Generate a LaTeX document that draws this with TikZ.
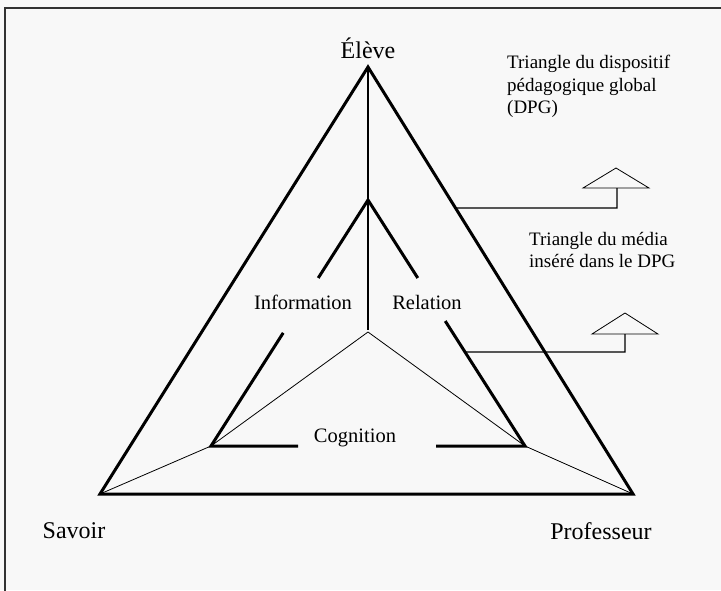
\documentclass[tikz,border=0pt]{standalone}
\usepackage{fontspec}
\setmainfont{Liberation Serif}
\usetikzlibrary{calc}
\definecolor{bgc}{RGB}{248,248,248}
\definecolor{framec}{RGB}{50,50,50}
\begin{document}
\begin{tikzpicture}[x=1pt,y=-1pt,
  bigside/.style={line width=3pt, line join=miter},
  innerside/.style={line width=3pt, line join=miter},
  thinline/.style={line width=0.8pt},
  midline/.style={line width=1.3pt},
  biglab/.style={inner sep=0pt, font=\fontsize{24}{28}\selectfont},
  smalllab/.style={inner sep=0pt, font=\fontsize{20.5}{24}\selectfont},
  notelab/.style={inner sep=0pt, anchor=north west, align=left, font=\fontsize{19}{22.5}\selectfont}]
\fill[bgc] (0,0) rectangle (721,590);
\useasboundingbox (0,0) rectangle (721,590);
% frame (only top and left visible)
\draw[framec, line width=1.5pt] (5,592) -- (5,8) -- (723,8);
% coordinates
\coordinate (A) at (368,67);
\coordinate (S) at (100,494);
\coordinate (P) at (633,494);
\coordinate (a) at (368,200);
\coordinate (s) at (211,446);
\coordinate (p) at (525,446);
\coordinate (c) at (368,332);
\coordinate (cv) at (368,330);
% outer triangle
\draw[bigside] (A) -- (S) -- (P) -- cycle;
% vertical line
\draw[midline] (A) -- (cv);
% thin lines
\draw[thinline] (c) -- (s) -- (S);
\draw[thinline] (c) -- (p) -- (P);
% inner broken triangle
\coordinate (a1) at ($(a)!0.317!(s)$);
\coordinate (s1) at ($(a)!0.54!(s)$);
\coordinate (a2) at ($(a)!0.317!(p)$);
\coordinate (p1) at ($(a)!0.492!(p)$);
\coordinate (s2) at (298,446);
\coordinate (p2) at (436,446);
\draw[innerside] (a1) -- (a) -- (a2);
\draw[innerside] (s1) -- (s) -- (s2);
\draw[innerside] (p1) -- (p) -- (p2);
% labels
\node[biglab] (eleve) at (368,48) {Élève};
\node[biglab] (savoir) at (74,531) {Savoir};
\node[biglab] (prof) at (601,531) {Professeur};
\node[smalllab] (info) at (303,302) {Information};
\node[smalllab] (rel) at (427,302) {Relation};
\node[smalllab] (cog) at (355,438) {Cognition};
% notes
\node[notelab] (dpg) at (507,55) {Triangle du dispositif\\pédagogique global\\(DPG)};
\node[notelab] (media) at (529,232) {Triangle du média\\inséré dans le DPG};
% legend markers
\coordinate (o1) at ($(A)!0.33!(P)$);
\coordinate (k1) at (617,208);
\coordinate (t1) at (617,188);
\draw[midline] (o1) -- (k1) -- (t1);
\draw[thinline] (583,188) -- (616,168) -- (649,188) -- cycle;
\coordinate (i1) at ($(a)!0.618!(p)$);
\coordinate (k2) at (625,352);
\coordinate (t2) at (625,334);
\draw[midline] (i1) -- (k2) -- (t2);
\draw[thinline] (592,334) -- (625,313) -- (658,334) -- cycle;
\end{tikzpicture}
\end{document}
